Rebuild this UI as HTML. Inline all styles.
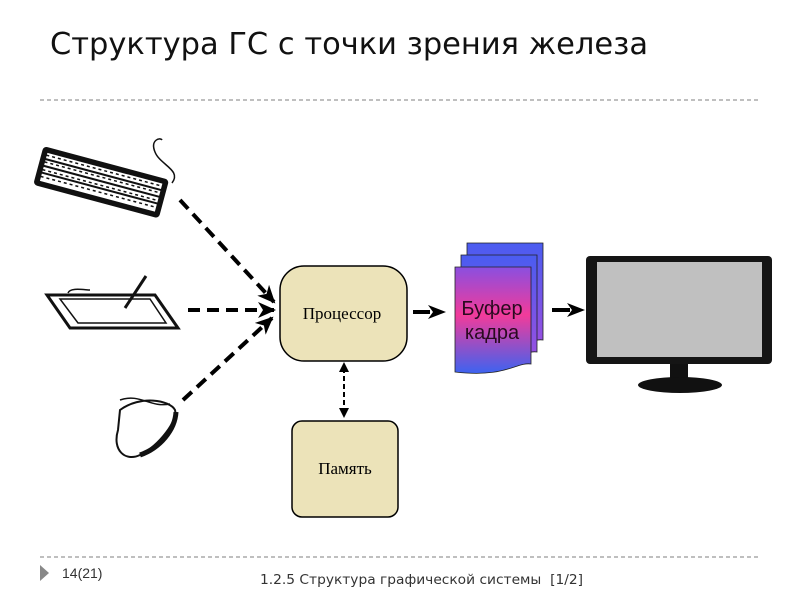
<!DOCTYPE html>
<html><head><meta charset="utf-8"><style>
html,body{margin:0;padding:0;background:#fff;width:800px;height:600px;overflow:hidden}
svg{display:block}
</style></head><body>
<svg width="800" height="600" viewBox="0 0 800 600" xmlns="http://www.w3.org/2000/svg" font-family="Liberation Sans, DejaVu Sans, sans-serif">
<defs>
<linearGradient id="g" x1="0" y1="0" x2="0" y2="1">
<stop offset="0" stop-color="#8a4fe0"/><stop offset="0.45" stop-color="#f23b9a"/><stop offset="1" stop-color="#3d63f0"/>
</linearGradient>
<linearGradient id="gb" x1="0" y1="0" x2="0" y2="1">
<stop offset="0" stop-color="#4a5cf0"/><stop offset="1" stop-color="#9a4fe0"/>
</linearGradient>
<marker id="ah" markerWidth="18" markerHeight="16" refX="16" refY="8" orient="auto" markerUnits="userSpaceOnUse" viewBox="0 0 18 16">
<path d="M0,0 L18,8 L0,16 L5,8 z" fill="#000"/></marker>
</defs>
<text x="50" y="54" font-size="30" fill="#111" font-family="DejaVu Sans, sans-serif" textLength="598" lengthAdjust="spacingAndGlyphs">Структура ГС с точки зрения железа</text>
<line x1="40" y1="100" x2="760" y2="100" stroke="#aaa" stroke-width="1.5" stroke-dasharray="4,3"/>
<line x1="40" y1="557" x2="760" y2="557" stroke="#aaa" stroke-width="1.5" stroke-dasharray="4,3"/>
<polygon points="40,565 49,573 40,581" fill="#888"/>
<text x="62" y="578" font-size="14" fill="#333">14(21)</text>
<text x="260" y="584" font-size="13" fill="#333" font-family="DejaVu Sans, sans-serif" textLength="323" lengthAdjust="spacingAndGlyphs" xml:space="preserve">1.2.5 Структура графической системы  [1/2]</text>

<!-- keyboard -->
<g transform="translate(40,140) rotate(15)">
<rect x="5" y="5" width="130" height="40" rx="4" fill="#111"/>
<rect x="10" y="10" width="120" height="30" fill="#fff" stroke="#111" stroke-width="1"/>
<g stroke="#111" stroke-width="2"><line x1="10" y1="17" x2="130" y2="17"/><line x1="10" y1="24" x2="130" y2="24"/><line x1="10" y1="31" x2="130" y2="31"/></g>
<g stroke="#111" stroke-width="1.5" stroke-dasharray="3,3"><line x1="10" y1="13" x2="130" y2="13"/><line x1="10" y1="20" x2="130" y2="20"/><line x1="10" y1="28" x2="130" y2="28"/><line x1="10" y1="35" x2="130" y2="35"/></g>
</g>
<path d="M172,183 C182,170 160,165 155,152 C150,140 160,137 162,140" fill="none" stroke="#111" stroke-width="1.5"/>
<!-- tablet -->
<polygon points="47,295 155,295 178,328 70,328" fill="#fff" stroke="#111" stroke-width="3"/>
<polygon points="60,299 150,299 166,323 78,323" fill="#fff" stroke="#111" stroke-width="1.5"/>
<line x1="125" y1="308" x2="146" y2="276" stroke="#111" stroke-width="3"/>
<path d="M68,293 C70,287 85,290 90,290" fill="none" stroke="#111" stroke-width="1.5"/>
<!-- mouse -->
<path d="M120,410 C140,395 170,400 175,410 C178,420 160,445 140,455 C125,462 112,450 118,430 Z" fill="#fff" stroke="#111" stroke-width="2"/>
<path d="M140,455 C160,448 175,430 176,412" fill="none" stroke="#111" stroke-width="5"/>
<path d="M120,400 C140,393 150,408 170,404" fill="none" stroke="#111" stroke-width="1.5"/>

<!-- input arrows -->
<g stroke="#000" stroke-width="4" stroke-dasharray="12,7" fill="none" marker-end="url(#ah)">
<line x1="180" y1="200" x2="274" y2="302"/>
<line x1="188" y1="310" x2="274" y2="310"/>
<line x1="183" y1="400" x2="272" y2="318"/>
</g>

<!-- processor -->
<rect x="280" y="266" width="127" height="95" rx="24" fill="#ece3b9" stroke="#000" stroke-width="1.5"/>
<text x="342" y="319" font-size="17" text-anchor="middle" font-family="Liberation Serif, serif">Процессор</text>
<!-- memory -->
<rect x="292" y="421" width="106" height="96" rx="10" fill="#ece3b9" stroke="#000" stroke-width="1.5"/>
<text x="345" y="474" font-size="17" text-anchor="middle" font-family="Liberation Serif, serif">Память</text>
<!-- vertical arrow -->
<line x1="344" y1="368" x2="344" y2="413" stroke="#000" stroke-width="2" stroke-dasharray="5,3"/>
<polygon points="344,362 339,372 349,372" fill="#000"/>
<polygon points="344,418 339,408 349,408" fill="#000"/>

<!-- proc to buffer -->
<line x1="413" y1="312" x2="430" y2="312" stroke="#000" stroke-width="4"/>
<polygon points="428,305 446,312 428,319 433,312" fill="#000"/>
<!-- buffer pages -->
<path d="M467,243 H543 V340 C530,338 520,352 467,345 Z" fill="url(#gb)" stroke="#222" stroke-width="0.8"/>
<path d="M461,255 H537 V352 C524,350 514,364 461,357 Z" fill="url(#gb)" stroke="#222" stroke-width="0.8"/>
<path d="M455,267 H531 V364 C516,362 506,378 455,372 Z" fill="url(#g)" stroke="#222" stroke-width="0.8"/>
<text x="492" y="315" font-size="20" text-anchor="middle" fill="#2a0a20">Буфер</text>
<text x="492" y="339" font-size="20" text-anchor="middle" fill="#2a0a20">кадра</text>
<!-- buffer to monitor -->
<line x1="552" y1="310" x2="570" y2="310" stroke="#000" stroke-width="4"/>
<polygon points="567,303 585,310 567,317 572,310" fill="#000"/>
<!-- monitor -->
<rect x="586" y="256" width="186" height="108" rx="4" fill="#151515"/>
<rect x="597" y="262" width="165" height="95" fill="#c0c0c0"/>
<rect x="670" y="364" width="18" height="16" fill="#111"/>
<ellipse cx="680" cy="385" rx="42" ry="8" fill="#111"/>
</svg>
</body></html>
